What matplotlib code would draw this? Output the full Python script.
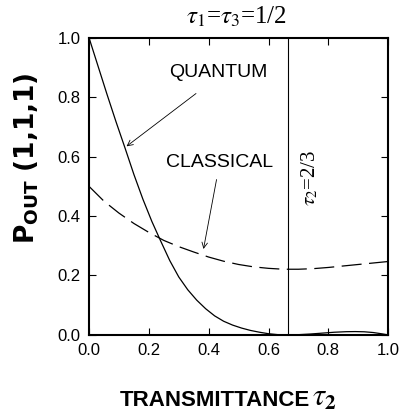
import matplotlib
matplotlib.use("Agg")
import matplotlib.pyplot as plt

plt.rcParams['font.family'] = ['Liberation Sans', 'DejaVu Sans']
plt.rcParams['mathtext.fontset'] = 'custom'
plt.rcParams['mathtext.rm'] = 'DejaVu Sans:bold'
plt.rcParams['mathtext.bf'] = 'DejaVu Sans:bold'
plt.rcParams['mathtext.it'] = 'DejaVu Sans:bold'

# values
tau_quantum = [0.0, 0.03, 0.06, 0.09, 0.12, 0.15, 0.18, 0.21, 0.24, 0.27,
               0.30, 0.33, 0.36, 0.39, 0.42, 0.45, 0.48, 0.51, 0.54, 0.57,
               0.60, 0.63, 0.667, 0.70, 0.74, 0.78, 0.82, 0.86, 0.89, 0.92,
               0.95, 0.98, 1.0]
p_quantum = [1.0, 0.905, 0.81, 0.718, 0.63, 0.54, 0.457, 0.382, 0.315, 0.25,
             0.195, 0.152, 0.117, 0.088, 0.064, 0.046, 0.033, 0.023, 0.015, 0.009,
             0.004, 0.001, 0.0, 0.0008, 0.003, 0.006, 0.009, 0.0108, 0.0112, 0.0105,
             0.008, 0.0035, 0.0]

tau_classical = [0.0, 0.05, 0.1, 0.15, 0.2, 0.25, 0.3, 0.35, 0.4, 0.45, 0.5,
                 0.55, 0.6, 0.65, 0.7, 0.75, 0.8, 0.85, 0.9, 0.95, 1.0]
p_classical = [0.5, 0.45, 0.41, 0.375, 0.345, 0.318, 0.297, 0.279, 0.262, 0.248,
               0.237, 0.229, 0.224, 0.221, 0.221, 0.223, 0.227, 0.232, 0.237,
               0.242, 0.247]

tau_mark = 2 / 3
x_ticks = [0.0, 0.2, 0.4, 0.6, 0.8, 1.0]
y_ticks = [0.0, 0.2, 0.4, 0.6, 0.8, 1.0]

fig = plt.figure(figsize=(4.01, 4.15), dpi=100)
ax = fig.add_axes([0.222, 0.193, 0.746, 0.716])

ax.plot(tau_quantum, p_quantum, color='black', lw=0.9)
ax.plot(tau_classical, p_classical, color='black', lw=0.9, dashes=(16, 6))
ax.axvline(tau_mark, color='black', lw=0.8)

ax.set_xlim(0, 1)
ax.set_ylim(0, 1)
ax.set_xticks(x_ticks)
ax.set_yticks(y_ticks)
ax.set_xticklabels([f"{v:.1f}" for v in x_ticks])
ax.set_yticklabels([f"{v:.1f}" for v in y_ticks])
ax.tick_params(direction='in', length=5, width=0.8, labelsize=12,
               top=True, right=True, pad=6)
for s in ax.spines.values():
    s.set_linewidth(1.5)

ax.text(0.431, 0.882, "QUANTUM", fontsize=14, ha='center', va='center')
ax.annotate("", xy=(0.118, 0.629), xytext=(0.365, 0.818),
            arrowprops=dict(arrowstyle='->', lw=0.6, color='black'))
ax.text(0.438, 0.579, "CLASSICAL", fontsize=14, ha='center', va='center')
ax.annotate("", xy=(0.381, 0.28), xytext=(0.428, 0.532),
            arrowprops=dict(arrowstyle='->', lw=0.6, color='black'))

ax.text(0.74, 0.53, r"$\tau_2$=2/3", rotation=90, fontsize=15,
        family='Liberation Serif', math_fontfamily='stix',
        ha='center', va='center')

fig.text(0.589, 0.959, r"$\tau_1$=$\tau_3$=1/2", fontsize=18,
         family='Liberation Serif', math_fontfamily='stix',
         ha='center', va='center')

fig.text(0.067, 0.619, r"P$_{\mathrm{OUT}}$ (1,1,1)", rotation=90,
         fontsize=19, fontweight='bold', family='DejaVu Sans',
         ha='center', va='center')

# x label: sans caps plus a larger serif tau
fig.text(310 / 401, 0.0217, "TRANSMITTANCE", fontsize=16,
         fontweight='bold', ha='right', va='baseline')
fig.text(312 / 401, 0.0217, r"$\tau_{\mathbf{2}}$", fontsize=22,
         math_fontfamily='stix', ha='left', va='baseline')

fig.savefig("out.png", dpi=100)
